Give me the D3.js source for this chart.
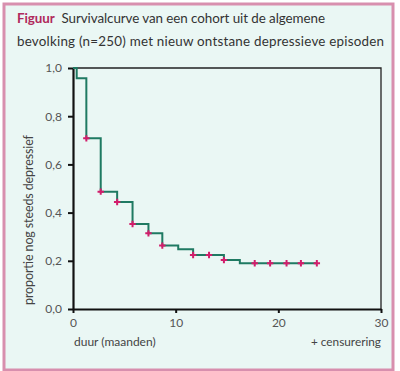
<!DOCTYPE html>
<html>
<head>
<meta charset="utf-8">
<script src="https://cdn.jsdelivr.net/npm/d3@7"></script>
<style>
  body { margin: 0; background: #fff; }
  svg { display: block; font-family: Lato, "Open Sans", sans-serif; }
</style>
</head>
<body>
<svg width="400" height="371"></svg>
<script>
// Kaplan-Meier stappen (maanden, proportie)
const stepTimes = [0, 0.36, 1.3, 2.7, 4.3, 5.8, 7.35, 8.7, 10.25, 11.7, 14.7, 16.25];
const survival = [1.0, 0.957, 0.708, 0.487, 0.444, 0.353, 0.314, 0.263, 0.248, 0.224, 0.203, 0.19];
const endTime = 23.75;
// gecensureerde waarnemingen
const censorTimes = [1.3, 2.7, 4.3, 5.8, 7.35, 8.7, 11.7, 13.25, 14.7, 17.7, 19.2, 20.8, 22.2, 23.75];
const xTicks = [0, 10, 20, 30];
const yTicks = [0, 0.2, 0.4, 0.6, 0.8, 1.0];

const svg = d3.select("svg");
const bg = "#eaf7f4";

// kader
svg.append("rect")
  .attr("x", 4).attr("y", 4)
  .attr("width", 389).attr("height", 366)
  .attr("fill", bg)
  .attr("stroke", "#d88fae")
  .attr("stroke-width", 3);

// titel
const title = svg.append("text")
  .attr("x", 17).attr("y", 23)
  .attr("font-size", 13.4)
  .attr("fill", "#333")
  .attr("textLength", 308)
  .attr("lengthAdjust", "spacing");
title.append("tspan").attr("font-weight", "bold").attr("fill", "#b02a5c").text("Figuur");
title.append("tspan").text("\u00a0 Survivalcurve van een cohort uit de algemene");
svg.append("text")
  .attr("x", 17).attr("y", 46)
  .attr("font-size", 13.4)
  .attr("fill", "#333")
  .attr("textLength", 367)
  .attr("lengthAdjust", "spacing")
  .text("bevolking (n=250) met nieuw ontstane depressieve episoden");

const x = d3.scaleLinear().domain([0, 30]).range([73, 381]);
const y = d3.scaleLinear().domain([0, 1]).range([309, 68]);

// bovenrand en rechterrand
svg.append("path")
  .attr("d", `M${x(0)},${y(1)}H${x(30)}V${y(0)}`)
  .attr("fill", "none")
  .attr("stroke", "#222")
  .attr("stroke-width", 1.3);

const fmt = d => d3.format(".1f")(d).replace(".", ",");

const gy = svg.append("g")
  .attr("transform", `translate(${x(0)},0)`)
  .call(d3.axisLeft(y).tickValues(yTicks).tickFormat(fmt).tickSize(5).tickSizeOuter(0));
const gx = svg.append("g")
  .attr("transform", `translate(0,${y(0)})`)
  .call(d3.axisBottom(x).tickValues(xTicks).tickFormat(d3.format("d")).tickSize(4).tickSizeOuter(0));

[gy, gx].forEach(g => {
  g.select(".domain").attr("stroke", "#111").attr("stroke-width", 2.2);
  g.selectAll(".tick line").attr("stroke", "#111").attr("stroke-width", 2);
  g.selectAll(".tick text")
    .attr("font-family", "Lato, 'Open Sans', sans-serif")
    .attr("font-size", 12)
    .attr("fill", "#555");
});
gy.selectAll(".tick text").attr("x", -11);
gx.selectAll(".tick text").attr("y", 9);

// aslabels
svg.append("text")
  .attr("transform", "translate(33,305) rotate(-90)")
  .attr("font-size", 12.5)
  .attr("fill", "#444")
  .attr("textLength", 170)
  .attr("lengthAdjust", "spacing")
  .text("proportie nog steeds depressief");

svg.append("text")
  .attr("x", 74).attr("y", 346)
  .attr("font-size", 12)
  .attr("fill", "#444")
  .text("duur (maanden)");

svg.append("text")
  .attr("x", 381).attr("y", 346)
  .attr("text-anchor", "end")
  .attr("font-size", 11.8)
  .attr("fill", "#444")
  .text("+ censurering");

// overlevingscurve
const pts = stepTimes.map((t, i) => [t, survival[i]]);
pts.push([endTime, survival[survival.length - 1]]);

const line = d3.line()
  .x(d => x(d[0]))
  .y(d => y(d[1]))
  .curve(d3.curveStepAfter);

svg.append("path")
  .datum(pts)
  .attr("d", line)
  .attr("fill", "none")
  .attr("stroke", "#1f7a62")
  .attr("stroke-width", 2);

// censureringen
const survAt = t => survival[d3.bisectRight(stepTimes, t) - 1];
const s = 3.2;
svg.append("g")
  .selectAll("path")
  .data(censorTimes)
  .join("path")
  .attr("d", t => {
    const cx = x(t), cy = y(survAt(t));
    return `M${cx - s},${cy}H${cx + s}M${cx},${cy - s}V${cy + s}`;
  })
  .attr("stroke", "#d21d6b")
  .attr("stroke-width", 2)
  .attr("fill", "none");
</script>
</body>
</html>
